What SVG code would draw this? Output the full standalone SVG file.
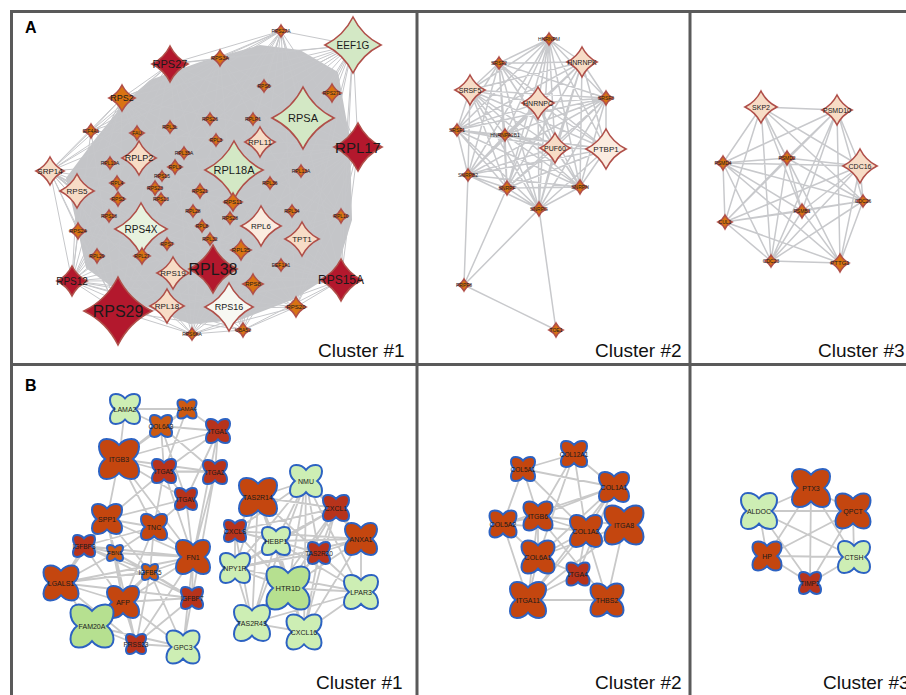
<svg xmlns="http://www.w3.org/2000/svg" xmlns:xlink="http://www.w3.org/1999/xlink" width="906" height="695" viewBox="0 0 906 695">
<style>
.t{font-family:"Liberation Sans",Arial,sans-serif;text-anchor:middle;dominant-baseline:central;fill:#1a1a1a}
.lab{font-family:"Liberation Sans",Arial,sans-serif;font-size:19px;fill:#111}
.pl{font-family:"Liberation Sans",Arial,sans-serif;font-size:16px;font-weight:bold;fill:#000}
.d{stroke:#b04f49;stroke-width:1.6}
.q{stroke:#2c62c2;stroke-width:2}
.dr{fill:#b3182d}.or{fill:#d97313}.pe{fill:#f7dcc6}.lp{fill:#fbece0}.gr{fill:#d3e8c5}.pg{fill:#e7f2df}.wh{fill:#f7f8f2}
.ru{fill:#c4460f}.rd{fill:#b7331b}.oq{fill:#cc5a12}.lg{fill:#cdeeb4}.mg{fill:#b6e090}
.ea{fill:none;stroke:#c6c7ca;stroke-width:1}
.eb{fill:none;stroke:#c8c9cc;stroke-width:1.5}
.ec{fill:none;stroke:#c9c9c9;stroke-width:1.8}
.fr{fill:none;stroke:#5a5a5a;stroke-width:3}
</style>
<defs>
<path id="dm" d="M0,-10Q3.3,-3.3 10,0Q3.3,3.3 0,10Q-3.3,3.3 -10,0Q-3.3,-3.3 0,-10Z" vector-effect="non-scaling-stroke"/>
<path id="qf" d="M0,-7C2,-9.5 4,-10 6.2,-10C8.5,-10 10,-8.5 10,-6.2C10,-4 9.5,-2 7,0C9.5,2 10,4 10,6.2C10,8.5 8.5,10 6.2,10C4,10 2,9.5 0,7C-2,9.5 -4,10 -6.2,10C-8.5,10 -10,8.5 -10,6.2C-10,4 -9.5,2 -7,0C-9.5,-2 -10,-4 -10,-6.2C-10,-8.5 -8.5,-10 -6.2,-10C-4,-10 -2,-9.5 0,-7Z" vector-effect="non-scaling-stroke"/>
</defs>
<rect width="906" height="695" fill="#fff"/>
<g id="frame">
<path class="fr" d="M10 11.5H906M11.5 10V695M10 364.5H906M417 10V695M690 10V695"/>
<text class="pl" x="25" y="33">A</text>
<text class="pl" x="25" y="391">B</text>
<text class="lab" x="318" y="357">Cluster #1</text>
<text class="lab" x="595" y="357">Cluster #2</text>
<text class="lab" x="818" y="357">Cluster #3</text>
<text class="lab" x="316" y="689">Cluster #1</text>
<text class="lab" x="595" y="689">Cluster #2</text>
<text class="lab" x="823" y="689">Cluster #3</text>
</g>
<g id="connectors">
<polygon points="150,80 200,62 260,45 300,50 338,72 350,140 352,220 336,272 292,300 240,320 190,324 130,300 86,268 76,222 66,178 96,138 122,106" fill="#c4c5c8"/>
<path class="ea" d="M281 31L353 45M281 31L170 64M281 31L122 98M281 31L91 131M281 31L50 171M281 31L220 58M281 31L72 281M281 31L118 311M281 31L192 334M281 31L243 330M281 31L296 307M281 31L341 280M281 31L358 147M281 31L213 269M281 31L141 229M281 31L234 170M281 31L303 118M281 31L341 216
M353 45L170 64M353 45L220 58M353 45L122 98M353 45L50 171M353 45L91 131M353 45L358 147M353 45L341 216M353 45L341 280M353 45L296 307M353 45L243 330M353 45L192 334M353 45L118 311M353 45L72 281M353 45L78 231M353 45L77 191M353 45L139 158M353 45L213 269M353 45L229 307M353 45L302 239
M358 147L170 64M358 147L220 58M358 147L122 98M358 147L50 171M358 147L91 131M358 147L77 191M358 147L78 231M358 147L72 281M358 147L118 311M358 147L192 334M358 147L243 330M358 147L296 307M358 147L341 280M358 147L341 216M358 147L141 229M358 147L173 273M358 147L167 306M358 147L229 307M358 147L332 93
M341 216L170 64M341 216L122 98M341 216L50 171M341 216L72 281M341 216L118 311M341 216L192 334M341 216L341 280M341 216L296 307M341 216L220 58
M341 280L170 64M341 280L220 58M341 280L122 98M341 280L50 171M341 280L91 131M341 280L77 191M341 280L78 231M341 280L72 281M341 280L118 311M341 280L192 334M341 280L243 330M341 280L296 307M341 280L167 306M341 280L173 273M341 280L139 158M341 280L141 229
M296 307L50 171M296 307L72 281M296 307L118 311M296 307L192 334M296 307L243 330M296 307L122 98M296 307L170 64M296 307L78 231
M243 330L72 281M243 330L118 311M243 330L50 171M243 330L122 98M243 330L170 64M243 330L220 58M243 330L192 334
M192 334L72 281M192 334L118 311M192 334L50 171M192 334L78 231M192 334L122 98M192 334L170 64M192 334L220 58
M118 311L72 281M118 311L50 171M118 311L78 231M118 311L122 98M118 311L170 64M118 311L220 58M118 311L91 131M118 311L77 191
M72 281L50 171M72 281L78 231M72 281L77 191M72 281L122 98M72 281L170 64M72 281L220 58M72 281L91 131M72 281L139 158M72 281L141 229M72 281L173 273M72 281L167 306M72 281L229 307
M50 171L122 98M50 171L170 64M50 171L220 58M50 171L91 131M50 171L77 191M50 171L78 231M50 171L141 229M50 171L213 269M50 171L229 307M50 171L173 273M50 171L167 306
M122 98L170 64M122 98L220 58M122 98L91 131M122 98L77 191M122 98L78 231M170 64L220 58M170 64L91 131M170 64L77 191"/>
<path class="eb" d="M549 39L499 63M549 39L582 62M549 39L470 90M549 39L538 103M549 39L606 98M549 39L457 130M549 39L505 135M549 39L555 148M549 39L606 149M549 39L468 175M549 39L507 188M549 39L580 187M549 39L539 209
M499 63L582 62M499 63L470 90M499 63L538 103M499 63L606 98M499 63L457 130M499 63L505 135M499 63L555 148M499 63L606 149M499 63L468 175M499 63L507 188M499 63L580 187M499 63L539 209
M582 62L470 90M582 62L538 103M582 62L606 98M582 62L457 130M582 62L505 135M582 62L555 148M582 62L606 149M582 62L468 175M582 62L507 188M582 62L580 187M582 62L539 209
M470 90L538 103M470 90L606 98M470 90L457 130M470 90L505 135M470 90L555 148M470 90L606 149M470 90L468 175M470 90L507 188M470 90L580 187M470 90L539 209
M538 103L606 98M538 103L457 130M538 103L505 135M538 103L555 148M538 103L606 149M538 103L468 175M538 103L507 188M538 103L580 187M538 103L539 209
M606 98L457 130M606 98L505 135M606 98L555 148M606 98L606 149M606 98L468 175M606 98L507 188M606 98L580 187M606 98L539 209
M457 130L505 135M457 130L555 148M457 130L606 149M457 130L468 175M457 130L507 188M457 130L580 187M457 130L539 209
M505 135L555 148M505 135L606 149M505 135L468 175M505 135L507 188M505 135L580 187M505 135L539 209
M555 148L606 149M555 148L468 175M555 148L507 188M555 148L580 187M555 148L539 209
M606 149L468 175M606 149L507 188M606 149L580 187M606 149L539 209
M468 175L507 188M468 175L580 187M468 175L539 209M507 188L580 187M507 188L539 209M580 187L539 209
M464 285L468 175M464 285L507 188M464 285L539 209M464 285L556 330M556 330L539 209"/>
<path class="eb" d="M761 107L837 110M761 107L860 166M761 107L787 158M761 107L723 163M761 107L863 201M761 107L802 211M761 107L725 222M761 107L771 261M761 107L840 263
M837 110L860 166M837 110L787 158M837 110L723 163M837 110L863 201M837 110L802 211M837 110L725 222M837 110L771 261M837 110L840 263
M860 166L787 158M860 166L723 163M860 166L863 201M860 166L802 211M860 166L725 222M860 166L771 261M860 166L840 263
M787 158L723 163M787 158L863 201M787 158L802 211M787 158L725 222M787 158L771 261M787 158L840 263
M723 163L863 201M723 163L802 211M723 163L725 222M723 163L771 261M723 163L840 263
M863 201L802 211M863 201L725 222M863 201L771 261M863 201L840 263
M802 211L725 222M802 211L771 261M802 211L840 263M725 222L771 261M725 222L840 263M771 261L840 263"/>
<path class="ec" d="M125 409L187 409M125 409L119 459M125 409L161 426M187 409L218 431M187 409L164 471M187 409L161 426M187 409L119 459M161 426L218 431M161 426L119 459M161 426L164 471M161 426L215 472M161 426L186 499
M119 459L164 471M119 459L215 472M119 459L186 499M119 459L107 519M119 459L193 557M119 459L154 527M119 459L218 431
M164 471L218 431M164 471L193 557M164 471L186 499M164 471L107 519M164 471L154 527M164 471L215 472
M186 499L107 519M186 499L193 557M186 499L154 527M186 499L218 431M218 431L215 472M218 431L193 557M215 472L193 557M215 472L192 598
M107 519L154 527M107 519L193 557M107 519L84 546M107 519L61 583M107 519L123 602M107 519L115 553M107 519L150 572
M154 527L193 557M154 527L115 553M154 527L150 572M154 527L123 602M154 527L84 546
M193 557L150 572M193 557L192 598M193 557L115 553M193 557L61 583M193 557L123 602M193 557L183 647M193 557L84 546M193 557L136 644
M84 546L115 553M84 546L150 572M84 546L61 583M84 546L123 602M84 546L192 598
M115 553L150 572M115 553L61 583M115 553L123 602M115 553L192 598M115 553L136 644
M150 572L123 602M150 572L192 598M150 572L183 647M150 572L136 644M150 572L61 583M150 572L92 626
M61 583L123 602M61 583L92 626M61 583L136 644M61 583L192 598
M123 602L192 598M123 602L183 647M123 602L136 644M123 602L92 626M192 598L183 647M192 598L136 644M136 644L183 647M92 626L136 644M92 626L183 647
M258 497L306 481M258 497L235 531M258 497L276 541M258 497L319 553M258 497L235 568M258 497L288 588M258 497L336 508M258 497L252 623
M306 481L336 508M306 481L235 531M306 481L276 541M306 481L319 553M306 481L361 539M306 481L235 568M306 481L288 588M306 481L361 592M306 481L252 623M306 481L304 632
M336 508L235 531M336 508L276 541M336 508L319 553M336 508L361 539M336 508L235 568M336 508L288 588M336 508L252 623M336 508L304 632
M235 531L276 541M235 531L235 568M235 531L288 588M235 531L252 623M235 531L361 539M235 531L319 553
M276 541L319 553M276 541L235 568M276 541L288 588M276 541L361 539M276 541L252 623M276 541L304 632M276 541L361 592
M319 553L361 539M319 553L288 588M319 553L235 568M319 553L252 623M319 553L361 592M319 553L304 632
M361 539L361 592M361 539L288 588M361 539L235 568M361 539L304 632M235 568L288 588M235 568L252 623M235 568L361 592
M288 588L252 623M288 588L304 632M288 588L361 592M361 592L304 632M361 592L252 623M252 623L304 632"/>
<path class="ec" d="M574 454L523 469M574 454L614 487M574 454L538 516M574 454L586 531M574 454L538 557
M523 469L614 487M523 469L503 524M523 469L586 531M523 469L538 516
M614 487L538 516M614 487L538 557M614 487L586 531M614 487L578 574M614 487L528 600M614 487L503 524
M538 516L503 524M538 516L586 531M538 516L624 525M538 516L538 557M538 516L607 600M538 516L528 600
M503 524L528 600M503 524L538 557M503 524L586 531M586 531L538 557M586 531L528 600M586 531L607 600M586 531L578 574
M624 525L538 557M624 525L607 600M624 525L528 600M538 557L528 600M538 557L578 574M578 574L528 600M528 600L607 600"/>
<path class="ec" d="M811 488L759 511M811 488L853 511M811 488L767 556M811 488L854 557M811 488L810 583M759 511L853 511M759 511L767 556M759 511L854 557M759 511L810 583M853 511L767 556M853 511L854 557M853 511L810 583M767 556L854 557M767 556L810 583M854 557L810 583"/>
</g>
<g id="nodes-a1">
<g id="n-RPS27" transform="translate(170,64)"><use href="#dm" class="d dr" transform="scale(1.8)"/><text class="t" font-size="11">RPS27</text></g>
<g id="n-RPS27A" transform="translate(281,31)"><use href="#dm" class="d or" transform="scale(0.6)"/><text class="t" font-size="5">RPS27A</text></g>
<g id="n-EEF1G" transform="translate(353,45)"><use href="#dm" class="d gr" transform="scale(2.8)"/><text class="t" font-size="10">EEF1G</text></g>
<g id="n-RPS3A" transform="translate(220,58)"><use href="#dm" class="d or" transform="scale(0.8)"/><text class="t" font-size="5.5">RPS3A</text></g>
<g id="n-RPS2" transform="translate(122,98)"><use href="#dm" class="d or" transform="scale(1.3)"/><text class="t" font-size="9">RPS2</text></g>
<g id="n-RPS6" transform="translate(264,86)"><use href="#dm" class="d or" transform="scale(0.6)"/><text class="t" font-size="5">RPS6</text></g>
<g id="n-RPS27L" transform="translate(332,93)"><use href="#dm" class="d or" transform="scale(0.9)"/><text class="t" font-size="5">RPS27L</text></g>
<g id="n-EIF4A1" transform="translate(91,131)"><use href="#dm" class="d or" transform="scale(0.7)"/><text class="t" font-size="5">EIF4A1</text></g>
<g id="n-FAU" transform="translate(137,133)"><use href="#dm" class="d or" transform="scale(0.7)"/><text class="t" font-size="5">FAU</text></g>
<g id="n-RPL3L" transform="translate(170,127)"><use href="#dm" class="d or" transform="scale(0.6)"/><text class="t" font-size="5">RPL3L</text></g>
<g id="n-RPS26" transform="translate(210,119)"><use href="#dm" class="d or" transform="scale(0.6)"/><text class="t" font-size="5">RPS26</text></g>
<g id="n-RPLP1" transform="translate(253,119)"><use href="#dm" class="d or" transform="scale(0.6)"/><text class="t" font-size="5">RPLP1</text></g>
<g id="n-RPSA" transform="translate(303,118)"><use href="#dm" class="d gr" transform="scale(3.1)"/><text class="t" font-size="11">RPSA</text></g>
<g id="n-RPL3" transform="translate(216,140)"><use href="#dm" class="d or" transform="scale(0.6)"/><text class="t" font-size="5">RPL3</text></g>
<g id="n-RPL11" transform="translate(260,142)"><use href="#dm" class="d pe" transform="scale(1.5)"/><text class="t" font-size="8">RPL11</text></g>
<g id="n-RPL17" transform="translate(358,147)"><use href="#dm" class="d dr" transform="scale(2.4)"/><text class="t" font-size="15">RPL17</text></g>
<g id="n-RPLP2" transform="translate(139,158)"><use href="#dm" class="d pe" transform="scale(1.7)"/><text class="t" font-size="9">RPLP2</text></g>
<g id="n-RPL10A" transform="translate(110,163)"><use href="#dm" class="d or" transform="scale(0.6)"/><text class="t" font-size="5">RPL10A</text></g>
<g id="n-RPL35A" transform="translate(184,153)"><use href="#dm" class="d or" transform="scale(0.6)"/><text class="t" font-size="5">RPL35A</text></g>
<g id="n-RPL9" transform="translate(175,167)"><use href="#dm" class="d or" transform="scale(0.7)"/><text class="t" font-size="5">RPL9</text></g>
<g id="n-SRP14" transform="translate(50,171)"><use href="#dm" class="d pe" transform="scale(1.4)"/><text class="t" font-size="8">SRP14</text></g>
<g id="n-RPL18A" transform="translate(234,170)"><use href="#dm" class="d gr" transform="scale(2.9)"/><text class="t" font-size="11">RPL18A</text></g>
<g id="n-RPL13A" transform="translate(301,171)"><use href="#dm" class="d or" transform="scale(0.6)"/><text class="t" font-size="5">RPL13A</text></g>
<g id="n-RPS15" transform="translate(162,176)"><use href="#dm" class="d or" transform="scale(0.5)"/><text class="t" font-size="5">RPS15</text></g>
<g id="n-RPS5" transform="translate(77,191)"><use href="#dm" class="d pe" transform="scale(1.7)"/><text class="t" font-size="8">RPS5</text></g>
<g id="n-RPL4" transform="translate(117,183)"><use href="#dm" class="d or" transform="scale(0.7)"/><text class="t" font-size="5">RPL4</text></g>
<g id="n-RPS23" transform="translate(155,188)"><use href="#dm" class="d or" transform="scale(0.7)"/><text class="t" font-size="5">RPS23</text></g>
<g id="n-RPS21" transform="translate(200,191)"><use href="#dm" class="d or" transform="scale(0.7)"/><text class="t" font-size="5">RPS21</text></g>
<g id="n-RPL36" transform="translate(270,183)"><use href="#dm" class="d or" transform="scale(0.6)"/><text class="t" font-size="5">RPL36</text></g>
<g id="n-RPS3" transform="translate(118,199)"><use href="#dm" class="d or" transform="scale(0.7)"/><text class="t" font-size="5">RPS3</text></g>
<g id="n-RPS13" transform="translate(161,199)"><use href="#dm" class="d or" transform="scale(0.6)"/><text class="t" font-size="5">RPS13</text></g>
<g id="n-RPS11" transform="translate(233,202)"><use href="#dm" class="d or" transform="scale(0.9)"/><text class="t" font-size="6">RPS11</text></g>
<g id="n-RPS18" transform="translate(109,216)"><use href="#dm" class="d or" transform="scale(0.6)"/><text class="t" font-size="5">RPS18</text></g>
<g id="n-RPL28" transform="translate(193,211)"><use href="#dm" class="d or" transform="scale(0.6)"/><text class="t" font-size="5">RPL28</text></g>
<g id="n-RPS28" transform="translate(230,218)"><use href="#dm" class="d or" transform="scale(0.6)"/><text class="t" font-size="5">RPS28</text></g>
<g id="n-RPL34" transform="translate(292,211)"><use href="#dm" class="d or" transform="scale(0.6)"/><text class="t" font-size="5">RPL34</text></g>
<g id="n-RPL10" transform="translate(341,216)"><use href="#dm" class="d or" transform="scale(0.7)"/><text class="t" font-size="5">RPL10</text></g>
<g id="n-RPL6" transform="translate(261,226)"><use href="#dm" class="d lp" transform="scale(2)"/><text class="t" font-size="8">RPL6</text></g>
<g id="n-RPS4X" transform="translate(141,229)"><use href="#dm" class="d pg" transform="scale(2.6)"/><text class="t" font-size="10">RPS4X</text></g>
<g id="n-RPS24" transform="translate(78,231)"><use href="#dm" class="d or" transform="scale(0.8)"/><text class="t" font-size="5.5">RPS24</text></g>
<g id="n-RPL8" transform="translate(202,226)"><use href="#dm" class="d or" transform="scale(0.6)"/><text class="t" font-size="5">RPL8</text></g>
<g id="n-RPS7" transform="translate(167,244)"><use href="#dm" class="d or" transform="scale(0.6)"/><text class="t" font-size="5">RPS7</text></g>
<g id="n-RPL32" transform="translate(210,239)"><use href="#dm" class="d or" transform="scale(0.6)"/><text class="t" font-size="5">RPL32</text></g>
<g id="n-TPT1" transform="translate(302,239)"><use href="#dm" class="d pe" transform="scale(1.7)"/><text class="t" font-size="8">TPT1</text></g>
<g id="n-RPL35" transform="translate(241,250)"><use href="#dm" class="d or" transform="scale(1)"/><text class="t" font-size="6">RPL35</text></g>
<g id="n-RPL29" transform="translate(97,256)"><use href="#dm" class="d or" transform="scale(0.7)"/><text class="t" font-size="5">RPL29</text></g>
<g id="n-RPL27" transform="translate(142,256)"><use href="#dm" class="d or" transform="scale(0.8)"/><text class="t" font-size="5">RPL27</text></g>
<g id="n-EEF1A1" transform="translate(281,265)"><use href="#dm" class="d or" transform="scale(0.6)"/><text class="t" font-size="5">EEF1A1</text></g>
<g id="n-RPL38" transform="translate(213,269)"><use href="#dm" class="d dr" transform="scale(2.4)"/><text class="t" font-size="16">RPL38</text></g>
<g id="n-RPS19" transform="translate(173,273)"><use href="#dm" class="d pe" transform="scale(1.6)"/><text class="t" font-size="8">RPS19</text></g>
<g id="n-RPS15A" transform="translate(341,280)"><use href="#dm" class="d dr" transform="scale(2.1)"/><text class="t" font-size="12">RPS15A</text></g>
<g id="n-RPS12" transform="translate(72,281)"><use href="#dm" class="d dr" transform="scale(1.5)"/><text class="t" font-size="10">RPS12</text></g>
<g id="n-RPS8" transform="translate(253,284)"><use href="#dm" class="d or" transform="scale(1)"/><text class="t" font-size="6">RPS8</text></g>
<g id="n-RPS16" transform="translate(229,307)"><use href="#dm" class="d wh" transform="scale(2.4)"/><text class="t" font-size="9">RPS16</text></g>
<g id="n-RPL18" transform="translate(167,306)"><use href="#dm" class="d pe" transform="scale(1.7)"/><text class="t" font-size="8">RPL18</text></g>
<g id="n-RPS20" transform="translate(296,307)"><use href="#dm" class="d or" transform="scale(1)"/><text class="t" font-size="6">RPS20</text></g>
<g id="n-RPS29" transform="translate(118,311)"><use href="#dm" class="d dr" transform="scale(3.4)"/><text class="t" font-size="16">RPS29</text></g>
<g id="n-UBA52" transform="translate(243,330)"><use href="#dm" class="d or" transform="scale(0.7)"/><text class="t" font-size="5">UBA52</text></g>
<g id="n-RPS6KA" transform="translate(192,334)"><use href="#dm" class="d or" transform="scale(0.6)"/><text class="t" font-size="5">RPS6KA</text></g>
</g>
<g id="nodes-a2">
<g id="n-HNRNPM" transform="translate(549,39)"><use href="#dm" class="d or" transform="scale(0.6)"/><text class="t" font-size="5">HNRNPM</text></g>
<g id="n-SRSF2" transform="translate(499,63)"><use href="#dm" class="d or" transform="scale(0.6)"/><text class="t" font-size="5">SRSF2</text></g>
<g id="n-HNRNPK" transform="translate(582,62)"><use href="#dm" class="d pe" transform="scale(1.5)"/><text class="t" font-size="7">HNRNPK</text></g>
<g id="n-SRSF5" transform="translate(470,90)"><use href="#dm" class="d pe" transform="scale(1.5)"/><text class="t" font-size="7">SRSF5</text></g>
<g id="n-HNRNPC" transform="translate(538,103)"><use href="#dm" class="d pe" transform="scale(1.6)"/><text class="t" font-size="7">HNRNPC</text></g>
<g id="n-SRSF3" transform="translate(606,98)"><use href="#dm" class="d or" transform="scale(0.7)"/><text class="t" font-size="5">SRSF3</text></g>
<g id="n-SRSF1" transform="translate(457,130)"><use href="#dm" class="d or" transform="scale(0.6)"/><text class="t" font-size="5">SRSF1</text></g>
<g id="n-HNRNPA2B1" transform="translate(505,135)"><use href="#dm" class="d or" transform="scale(0.6)"/><text class="t" font-size="5">HNRNPA2B1</text></g>
<g id="n-PUF60" transform="translate(555,148)"><use href="#dm" class="d pe" transform="scale(1.5)"/><text class="t" font-size="7">PUF60</text></g>
<g id="n-PTBP1" transform="translate(606,149)"><use href="#dm" class="d lp" transform="scale(2)"/><text class="t" font-size="8">PTBP1</text></g>
<g id="n-SNRPB2" transform="translate(468,175)"><use href="#dm" class="d or" transform="scale(0.6)"/><text class="t" font-size="5">SNRPB2</text></g>
<g id="n-SNRPF" transform="translate(507,188)"><use href="#dm" class="d or" transform="scale(0.7)"/><text class="t" font-size="5">SNRPF</text></g>
<g id="n-SNRPN" transform="translate(580,187)"><use href="#dm" class="d or" transform="scale(0.7)"/><text class="t" font-size="5">SNRPN</text></g>
<g id="n-SNRPG" transform="translate(539,209)"><use href="#dm" class="d or" transform="scale(0.7)"/><text class="t" font-size="5">SNRPG</text></g>
<g id="n-PRPF8" transform="translate(464,285)"><use href="#dm" class="d or" transform="scale(0.6)"/><text class="t" font-size="5">PRPF8</text></g>
<g id="n-TOE1" transform="translate(556,330)"><use href="#dm" class="d or" transform="scale(0.7)"/><text class="t" font-size="5">TOE1</text></g>
</g>
<g id="nodes-a3">
<g id="n-SKP2" transform="translate(761,107)"><use href="#dm" class="d pe" transform="scale(1.6)"/><text class="t" font-size="7">SKP2</text></g>
<g id="n-PSMD10" transform="translate(837,110)"><use href="#dm" class="d pe" transform="scale(1.5)"/><text class="t" font-size="7">PSMD10</text></g>
<g id="n-CDC16" transform="translate(860,166)"><use href="#dm" class="d pe" transform="scale(1.7)"/><text class="t" font-size="7">CDC16</text></g>
<g id="n-PSMD2" transform="translate(787,158)"><use href="#dm" class="d or" transform="scale(0.7)"/><text class="t" font-size="5">PSMD2</text></g>
<g id="n-PSMD4" transform="translate(723,163)"><use href="#dm" class="d or" transform="scale(0.7)"/><text class="t" font-size="5">PSMD4</text></g>
<g id="n-CDC26" transform="translate(863,201)"><use href="#dm" class="d or" transform="scale(0.6)"/><text class="t" font-size="5">CDC26</text></g>
<g id="n-PSMB1" transform="translate(802,211)"><use href="#dm" class="d or" transform="scale(0.7)"/><text class="t" font-size="5">PSMB1</text></g>
<g id="n-CUL1" transform="translate(725,222)"><use href="#dm" class="d or" transform="scale(0.7)"/><text class="t" font-size="5">CUL1</text></g>
<g id="n-CDC23" transform="translate(771,261)"><use href="#dm" class="d or" transform="scale(0.6)"/><text class="t" font-size="5">CDC23</text></g>
<g id="n-PTTG1" transform="translate(840,263)"><use href="#dm" class="d or" transform="scale(0.9)"/><text class="t" font-size="6">PTTG1</text></g>
</g>
<g id="nodes-b1">
<g id="n-LAMA2" transform="translate(125,409)"><use href="#qf" class="q lg" transform="scale(1.5)"/><text class="t" font-size="7">LAMA2</text></g>
<g id="n-LAMA4" transform="translate(187,409)"><use href="#qf" class="q oq" transform="scale(0.95)"/><text class="t" font-size="6">LAMA4</text></g>
<g id="n-COL6A3" transform="translate(161,426)"><use href="#qf" class="q oq" transform="scale(1.1)"/><text class="t" font-size="6.5">COL6A3</text></g>
<g id="n-ITGB3" transform="translate(119,459)"><use href="#qf" class="q ru" transform="scale(2)"/><text class="t" font-size="7">ITGB3</text></g>
<g id="n-ITGA1" transform="translate(218,431)"><use href="#qf" class="q rd" transform="scale(1.2)"/><text class="t" font-size="6.5">ITGA1</text></g>
<g id="n-ITGA5" transform="translate(164,471)"><use href="#qf" class="q rd" transform="scale(1.2)"/><text class="t" font-size="6.5">ITGA5</text></g>
<g id="n-ITGA2" transform="translate(215,472)"><use href="#qf" class="q rd" transform="scale(1.2)"/><text class="t" font-size="6.5">ITGA2</text></g>
<g id="n-ITGAV" transform="translate(186,499)"><use href="#qf" class="q rd" transform="scale(1.1)"/><text class="t" font-size="6.5">ITGAV</text></g>
<g id="n-SPP1" transform="translate(107,519)"><use href="#qf" class="q ru" transform="scale(1.5)"/><text class="t" font-size="7">SPP1</text></g>
<g id="n-TNC" transform="translate(154,527)"><use href="#qf" class="q ru" transform="scale(1.3)"/><text class="t" font-size="7">TNC</text></g>
<g id="n-IGFBP3" transform="translate(84,546)"><use href="#qf" class="q rd" transform="scale(1.1)"/><text class="t" font-size="6.5">IGFBP3</text></g>
<g id="n-FBN1" transform="translate(115,553)"><use href="#qf" class="q oq" transform="scale(0.8)"/><text class="t" font-size="6">FBN1</text></g>
<g id="n-FN1" transform="translate(193,557)"><use href="#qf" class="q ru" transform="scale(1.7)"/><text class="t" font-size="7">FN1</text></g>
<g id="n-IGFBP5" transform="translate(150,572)"><use href="#qf" class="q oq" transform="scale(0.8)"/><text class="t" font-size="6.5">IGFBP5</text></g>
<g id="n-LGALS1" transform="translate(61,583)"><use href="#qf" class="q ru" transform="scale(1.75)"/><text class="t" font-size="7">LGALS1</text></g>
<g id="n-AFP" transform="translate(123,602)"><use href="#qf" class="q ru" transform="scale(1.6)"/><text class="t" font-size="7">AFP</text></g>
<g id="n-IGFBP7" transform="translate(192,598)"><use href="#qf" class="q rd" transform="scale(1.1)"/><text class="t" font-size="6.5">IGFBP7</text></g>
<g id="n-FAM20A" transform="translate(92,626)"><use href="#qf" class="q mg" transform="scale(2.15)"/><text class="t" font-size="7">FAM20A</text></g>
<g id="n-PRSS23" transform="translate(136,644)"><use href="#qf" class="q rd" transform="scale(1)"/><text class="t" font-size="6.5">PRSS23</text></g>
<g id="n-GPC3" transform="translate(183,647)"><use href="#qf" class="q lg" transform="scale(1.65)"/><text class="t" font-size="7">GPC3</text></g>
<g id="n-TAS2R14" transform="translate(258,497)"><use href="#qf" class="q ru" transform="scale(1.9)"/><text class="t" font-size="7">TAS2R14</text></g>
<g id="n-NMU" transform="translate(306,481)"><use href="#qf" class="q lg" transform="scale(1.6)"/><text class="t" font-size="7">NMU</text></g>
<g id="n-CXCL1" transform="translate(336,508)"><use href="#qf" class="q rd" transform="scale(1.3)"/><text class="t" font-size="7">CXCL1</text></g>
<g id="n-CXCL8" transform="translate(235,531)"><use href="#qf" class="q rd" transform="scale(1.1)"/><text class="t" font-size="7">CXCL8</text></g>
<g id="n-HEBP1" transform="translate(276,541)"><use href="#qf" class="q lg" transform="scale(1.4)"/><text class="t" font-size="7">HEBP1</text></g>
<g id="n-ANXA1" transform="translate(361,539)"><use href="#qf" class="q ru" transform="scale(1.6)"/><text class="t" font-size="7">ANXA1</text></g>
<g id="n-TAS2R20" transform="translate(319,553)"><use href="#qf" class="q rd" transform="scale(1.1)"/><text class="t" font-size="6.5">TAS2R20</text></g>
<g id="n-NPY1R" transform="translate(235,568)"><use href="#qf" class="q lg" transform="scale(1.5)"/><text class="t" font-size="7">NPY1R</text></g>
<g id="n-HTR1D" transform="translate(288,588)"><use href="#qf" class="q mg" transform="scale(2.15)"/><text class="t" font-size="7.5">HTR1D</text></g>
<g id="n-LPAR3" transform="translate(361,592)"><use href="#qf" class="q lg" transform="scale(1.7)"/><text class="t" font-size="7">LPAR3</text></g>
<g id="n-TAS2R43" transform="translate(252,623)"><use href="#qf" class="q lg" transform="scale(1.8)"/><text class="t" font-size="7">TAS2R43</text></g>
<g id="n-CXCL16" transform="translate(304,632)"><use href="#qf" class="q lg" transform="scale(1.75)"/><text class="t" font-size="7">CXCL16</text></g>
</g>
<g id="nodes-b2">
<g id="n-COL12A1" transform="translate(574,454)"><use href="#qf" class="q ru" transform="scale(1.3)"/><text class="t" font-size="6.5">COL12A1</text></g>
<g id="n-COL5A1" transform="translate(523,469)"><use href="#qf" class="q ru" transform="scale(1.2)"/><text class="t" font-size="6.5">COL5A1</text></g>
<g id="n-COL1A1" transform="translate(614,487)"><use href="#qf" class="q ru" transform="scale(1.5)"/><text class="t" font-size="7">COL1A1</text></g>
<g id="n-ITGB6" transform="translate(538,516)"><use href="#qf" class="q ru" transform="scale(1.45)"/><text class="t" font-size="7">ITGB6</text></g>
<g id="n-COL5A2" transform="translate(503,524)"><use href="#qf" class="q ru" transform="scale(1.35)"/><text class="t" font-size="7">COL5A2</text></g>
<g id="n-COL1A2" transform="translate(586,531)"><use href="#qf" class="q ru" transform="scale(1.6)"/><text class="t" font-size="7">COL1A2</text></g>
<g id="n-ITGA8" transform="translate(624,525)"><use href="#qf" class="q ru" transform="scale(1.95)"/><text class="t" font-size="7">ITGA8</text></g>
<g id="n-COL6A1" transform="translate(538,557)"><use href="#qf" class="q ru" transform="scale(1.65)"/><text class="t" font-size="7">COL6A1</text></g>
<g id="n-ITGA4" transform="translate(578,574)"><use href="#qf" class="q rd" transform="scale(1.15)"/><text class="t" font-size="7">ITGA4</text></g>
<g id="n-ITGA11" transform="translate(528,600)"><use href="#qf" class="q ru" transform="scale(1.8)"/><text class="t" font-size="7">ITGA11</text></g>
<g id="n-THBS2" transform="translate(607,600)"><use href="#qf" class="q ru" transform="scale(1.65)"/><text class="t" font-size="7">THBS2</text></g>
</g>
<g id="nodes-b3">
<g id="n-PTX3" transform="translate(811,488)"><use href="#qf" class="q ru" transform="scale(1.9)"/><text class="t" font-size="7">PTX3</text></g>
<g id="n-ALDOC" transform="translate(759,511)"><use href="#qf" class="q lg" transform="scale(1.8)"/><text class="t" font-size="7">ALDOC</text></g>
<g id="n-QPCT" transform="translate(853,511)"><use href="#qf" class="q ru" transform="scale(1.75)"/><text class="t" font-size="7">QPCT</text></g>
<g id="n-HP" transform="translate(767,556)"><use href="#qf" class="q ru" transform="scale(1.45)"/><text class="t" font-size="7">HP</text></g>
<g id="n-CTSH" transform="translate(854,557)"><use href="#qf" class="q lg" transform="scale(1.6)"/><text class="t" font-size="7">CTSH</text></g>
<g id="n-TIMP2" transform="translate(810,583)"><use href="#qf" class="q rd" transform="scale(1.1)"/><text class="t" font-size="6.5">TIMP2</text></g>
</g>
</svg>
